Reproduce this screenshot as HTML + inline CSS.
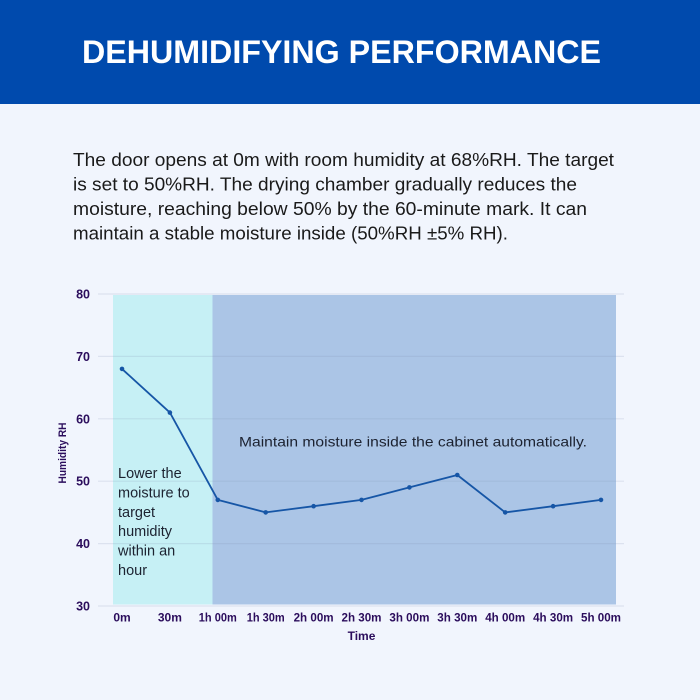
<!DOCTYPE html>
<html>
<head>
<meta charset="utf-8">
<style>
html,body{margin:0;padding:0;}
body{width:700px;height:700px;overflow:hidden;background:#f1f5fd;}
svg{display:block;}
</style>
</head>
<body>
<svg width="700" height="700" viewBox="0 0 700 700" xmlns="http://www.w3.org/2000/svg">
  <rect x="0" y="0" width="700" height="700" fill="#f1f5fd"/>
  <!-- header -->
  <rect x="0" y="0" width="700" height="104" fill="#004aad"/>
  <text x="341.5" y="63" text-anchor="middle" font-family="Liberation Sans, sans-serif" font-weight="bold" font-size="32" fill="#ffffff" textLength="519" lengthAdjust="spacingAndGlyphs">DEHUMIDIFYING PERFORMANCE</text>

  <!-- paragraph -->
  <g font-family="Liberation Sans, sans-serif" font-size="18" fill="#1a1a1a">
    <text x="73" y="166" textLength="541" lengthAdjust="spacingAndGlyphs">The door opens at 0m with room humidity at 68%RH. The target</text>
    <text x="73" y="190.5" textLength="504" lengthAdjust="spacingAndGlyphs">is set to 50%RH. The drying chamber gradually reduces the</text>
    <text x="73" y="215" textLength="514" lengthAdjust="spacingAndGlyphs">moisture, reaching below 50% by the 60-minute mark. It can</text>
    <text x="73" y="239.5" textLength="435" lengthAdjust="spacingAndGlyphs">maintain a stable moisture inside (50%RH ±5% RH).</text>
  </g>

  <!-- shaded regions -->
  <rect x="113" y="295" width="99.5" height="309.5" fill="#c6f0f5"/>
  <rect x="212.5" y="295" width="403.5" height="309.5" fill="#abc5e6"/>

  <!-- gridlines -->
  <g stroke="#7d8fb3" stroke-opacity="0.18" stroke-width="1.2">
    <line x1="98" y1="294" x2="624" y2="294"/>
    <line x1="98" y1="356.4" x2="624" y2="356.4"/>
    <line x1="98" y1="418.8" x2="624" y2="418.8"/>
    <line x1="98" y1="481.2" x2="624" y2="481.2"/>
    <line x1="98" y1="543.6" x2="624" y2="543.6"/>
    <line x1="98" y1="606" x2="624" y2="606"/>
  </g>

  <!-- y tick labels -->
  <g font-family="Liberation Sans, sans-serif" font-weight="bold" font-size="12.5" fill="#2b0d5c" text-anchor="end">
    <text x="90" y="298.5">80</text>
    <text x="90" y="360.9">70</text>
    <text x="90" y="423.3">60</text>
    <text x="90" y="485.7">50</text>
    <text x="90" y="548.1">40</text>
    <text x="90" y="610.5">30</text>
  </g>

  <!-- y axis title -->
  <text transform="translate(66,453) rotate(-90)" text-anchor="middle" font-family="Liberation Sans, sans-serif" font-weight="bold" font-size="11" fill="#2b0d5c" textLength="61" lengthAdjust="spacingAndGlyphs">Humidity RH</text>

  <!-- x tick labels -->
  <g font-family="Liberation Sans, sans-serif" font-weight="bold" font-size="12" fill="#2b0d5c" text-anchor="middle">
    <text x="122" y="621.5">0m</text>
    <text x="169.9" y="621.5">30m</text>
    <text x="217.8" y="621.5" textLength="38" lengthAdjust="spacingAndGlyphs">1h 00m</text>
    <text x="265.7" y="621.5" textLength="38" lengthAdjust="spacingAndGlyphs">1h 30m</text>
    <text x="313.6" y="621.5" textLength="40" lengthAdjust="spacingAndGlyphs">2h 00m</text>
    <text x="361.5" y="621.5" textLength="40" lengthAdjust="spacingAndGlyphs">2h 30m</text>
    <text x="409.4" y="621.5" textLength="40" lengthAdjust="spacingAndGlyphs">3h 00m</text>
    <text x="457.3" y="621.5" textLength="40" lengthAdjust="spacingAndGlyphs">3h 30m</text>
    <text x="505.2" y="621.5" textLength="40" lengthAdjust="spacingAndGlyphs">4h 00m</text>
    <text x="553.1" y="621.5" textLength="40" lengthAdjust="spacingAndGlyphs">4h 30m</text>
    <text x="601" y="621.5" textLength="40" lengthAdjust="spacingAndGlyphs">5h 00m</text>
  </g>
  <text x="361.5" y="640" text-anchor="middle" font-family="Liberation Sans, sans-serif" font-weight="bold" font-size="12" fill="#2b0d5c">Time</text>

  <!-- annotations -->
  <text x="239" y="446.5" font-family="Liberation Sans, sans-serif" font-size="14" fill="#1c2230" textLength="348" lengthAdjust="spacingAndGlyphs">Maintain moisture inside the cabinet automatically.</text>
  <g font-family="Liberation Sans, sans-serif" font-size="14.5" fill="#1c2230">
    <text x="118" y="478">Lower the</text>
    <text x="118" y="497.4">moisture to</text>
    <text x="118" y="516.8">target</text>
    <text x="118" y="536.2">humidity</text>
    <text x="118" y="555.6">within an</text>
    <text x="118" y="575">hour</text>
  </g>

  <!-- series -->
  <polyline fill="none" stroke="#1656a6" stroke-width="1.8" stroke-linejoin="round"
    points="122,368.9 169.9,412.6 217.8,499.9 265.7,512.4 313.6,506.2 361.5,499.9 409.4,487.4 457.3,475 505.2,512.4 553.1,506.2 601,499.9"/>
  <g fill="#1656a6">
    <circle cx="122" cy="368.9" r="2.3"/>
    <circle cx="169.9" cy="412.6" r="2.3"/>
    <circle cx="217.8" cy="499.9" r="2.3"/>
    <circle cx="265.7" cy="512.4" r="2.3"/>
    <circle cx="313.6" cy="506.2" r="2.3"/>
    <circle cx="361.5" cy="499.9" r="2.3"/>
    <circle cx="409.4" cy="487.4" r="2.3"/>
    <circle cx="457.3" cy="475" r="2.3"/>
    <circle cx="505.2" cy="512.4" r="2.3"/>
    <circle cx="553.1" cy="506.2" r="2.3"/>
    <circle cx="601" cy="499.9" r="2.3"/>
  </g>
</svg>
</body>
</html>
